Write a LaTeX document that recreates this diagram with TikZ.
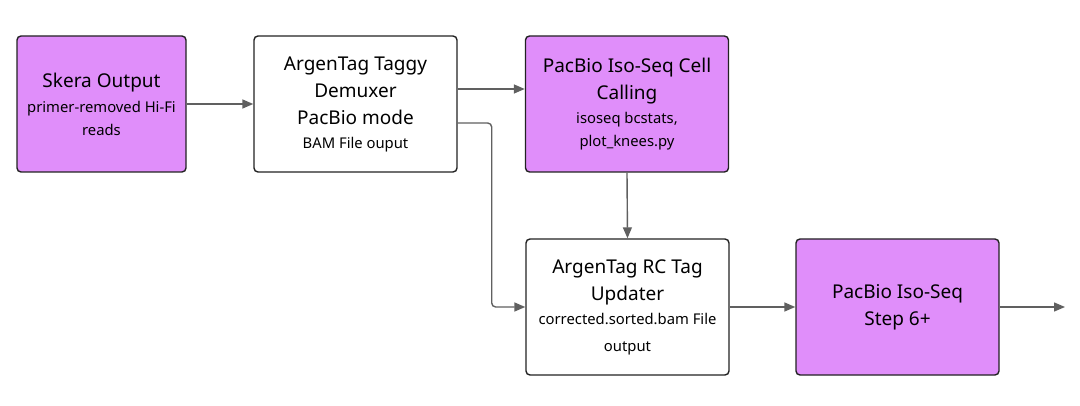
\documentclass[tikz,border=0pt]{standalone}
\usepackage{fontspec}
\setmainfont{Noto Sans}
\usepackage{tikz}
\usetikzlibrary{arrows.meta}

\definecolor{boxpurple}{RGB}{224,142,250}
\definecolor{boxline}{RGB}{34,34,34}
\definecolor{arrowgray}{RGB}{96,96,96}

\tikzset{
  stepbox/.style={draw=boxline, line width=1.4pt, rounded corners=4pt,
    minimum width=203pt, minimum height=136pt,
    align=center, font=\fontsize{19}{27}\selectfont},
  toolbox/.style={stepbox, fill=boxpurple},
  plainbox/.style={stepbox, fill=white},
  flow/.style={draw=arrowgray, line width=1.4pt,
    -{Triangle[length=11pt,width=9pt]}}
}
\newcommand{\sub}{\fontsize{14.8}{22}\selectfont}

\begin{document}
\begin{tikzpicture}[x=1pt,y=-1pt]
        %BATAS
        \useasboundingbox (0,0) rectangle (1080,406);
        %KOTAK
        \node[toolbox, minimum width=169pt] (skera) at (101.5,104)
          {Skera Output\\[-2pt]{\sub primer-removed Hi-Fi}\\[-4pt]{\sub reads}};
        \node[plainbox] (demux) at (355.5,104)
          {ArgenTag Taggy\\Demuxer\\PacBio mode\\[-3pt]{\sub BAM File ouput}};
        \node[toolbox] (cell) at (627,104)
          {PacBio Iso-Seq Cell\\Calling\\[-3pt]{\sub isoseq bcstats,}\\[-4pt]{\sub plot\_knees.py}};
        \node[plainbox] (updater) at (627.5,307)
          {ArgenTag RC Tag\\Updater\\[-3pt]{\sub corrected.sorted.bam File}\\{\sub output}};
        \node[toolbox] (step6) at (897.5,307)
          {PacBio Iso-Seq\\Step 6+};
        \coordinate (end) at (1065,307);
        %PANAH
        \draw[flow] (skera.east) -- (demux.west);
        \draw[flow] ([yshift=15pt]demux.east) -- ([yshift=15pt]cell.west);
        \draw[flow, rounded corners=4pt] ([yshift=-19pt]demux.east) -- ++(34,0) |- (updater.west);
        \draw[flow] (cell.south) -- (updater.north);
        \draw[flow] (updater.east) -- (step6.west);
        \draw[flow] (step6.east) -- (end);
    \end{tikzpicture}
\end{document}
